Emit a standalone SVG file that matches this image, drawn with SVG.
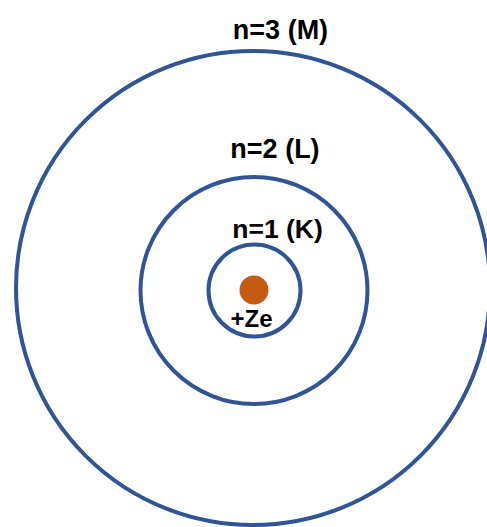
<svg xmlns="http://www.w3.org/2000/svg" width="487" height="527" viewBox="0 0 487 527">
<style>
.orbit{fill:none;stroke:#2F5597;stroke-width:4}
.lbl{font-family:"Liberation Sans",Arial,sans-serif;font-weight:bold;fill:#000;text-anchor:middle}
</style>
<rect width="487" height="527" fill="#fff"/>
<g id="shell-M">
<circle class="orbit" cx="253" cy="288" r="237"/>
<text class="lbl" x="280.5" y="39" font-size="27">n=3 (M)</text>
</g>
<g id="shell-L">
<circle class="orbit" cx="254" cy="290.5" r="113.5"/>
<text class="lbl" x="275" y="158" font-size="27">n=2 (L)</text>
</g>
<g id="shell-K">
<circle class="orbit" cx="254.5" cy="290.5" r="46"/>
<text class="lbl" x="277.5" y="237.5" font-size="26.5">n=1 (K)</text>
</g>
<g id="nucleus">
<circle cx="254" cy="290" r="14.5" fill="#C55A11"/>
<text class="lbl" x="251.5" y="327" font-size="24">+Ze</text>
</g>
<g id="connectors"/>
</svg>
